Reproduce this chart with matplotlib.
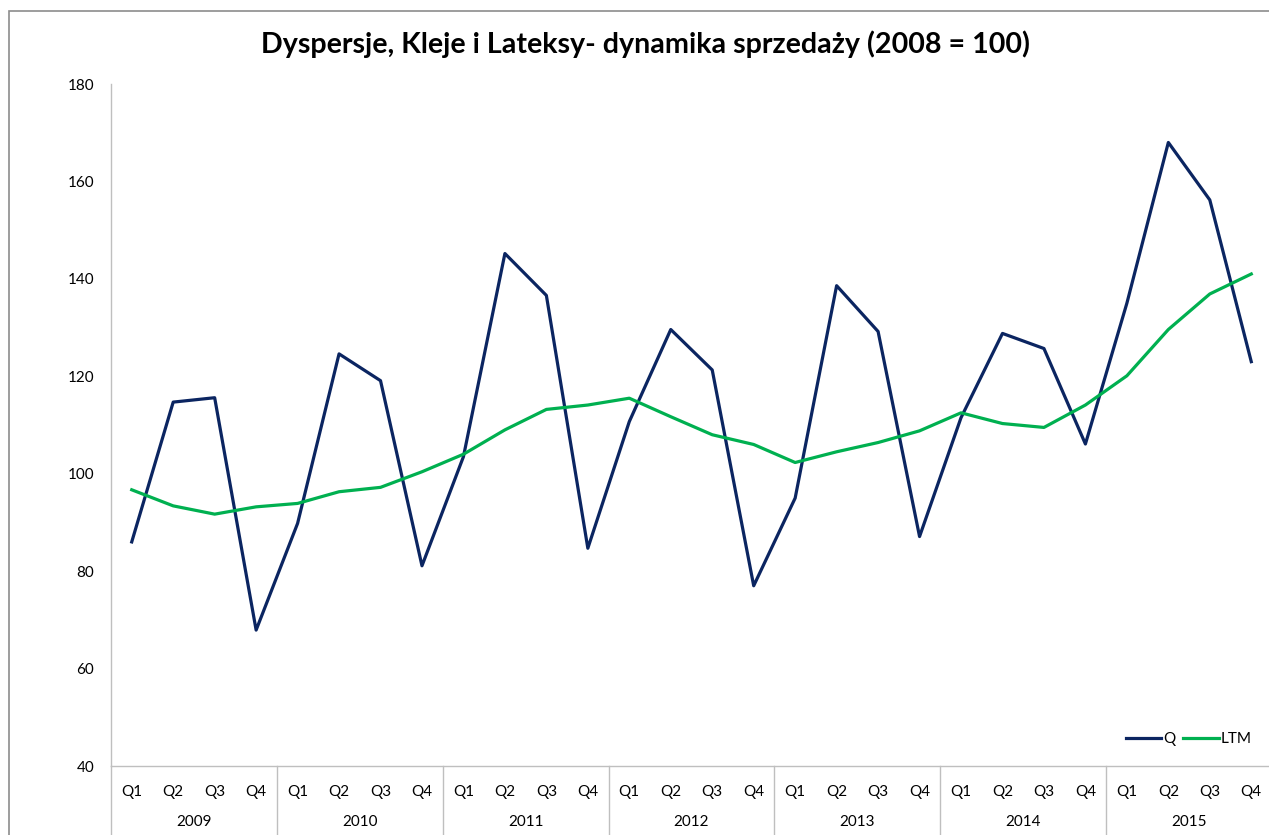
import matplotlib.pyplot as plt
from matplotlib.patches import Rectangle
from matplotlib.transforms import blended_transform_factory
import numpy as np

plt.rcParams["font.family"] = ["Lato", "DejaVu Sans"]

years = ["2009", "2010", "2011", "2012", "2013", "2014", "2015"]
quarters = ["Q1", "Q2", "Q3", "Q4"]

q_vals = [86.0, 114.7, 115.6, 67.9,
          89.8, 124.6, 119.1, 81.1,
          103.5, 145.2, 136.6, 84.7,
          110.7, 129.6, 121.3, 77.0,
          95.0, 138.6, 129.2, 87.1,
          111.5, 128.8, 125.7, 106.1,
          135.0, 168.0, 156.2, 123.0]

ltm_vals = [96.7, 93.4, 91.7, 93.2,
            93.9, 96.3, 97.2, 100.4,
            104.0, 109.0, 113.2, 114.1,
            115.5, 111.7, 108.0, 106.0,
            102.3, 104.5, 106.4, 108.8,
            112.5, 110.3, 109.5, 114.1,
            120.1, 129.6, 136.9, 141.0]

W, H = 1269, 835
fig = plt.figure(figsize=(W / 100, H / 100), dpi=100)

# outer frame of the chart area
fig.patches.append(Rectangle((9 / W, -0.1), 1.2, 1.1 - 11 / H, transform=fig.transFigure,
                             fill=False, edgecolor="#8c8c8c", linewidth=1.2))

ax = fig.add_axes([111 / W, (H - 766) / H, 1161 / W, 682 / H])

x = np.arange(len(q_vals))
ax.plot(x, q_vals, color="#0b2561", linewidth=2.3, label="Q")
ax.plot(x, ltm_vals, color="#00b050", linewidth=2.3, label="LTM")

ax.set_xlim(-0.5, len(q_vals) - 0.5)
ax.set_ylim(40, 180)
ax.set_yticks(np.arange(40, 181, 20))
ax.tick_params(axis="y", length=0, pad=12, labelsize=11)

ax.set_xticks(x)
ax.set_xticklabels(quarters * len(years))
ax.tick_params(axis="x", length=0, pad=14, labelsize=11)

for s in ["top", "right"]:
    ax.spines[s].set_visible(False)
for s in ["left", "bottom"]:
    ax.spines[s].set_color("#bfbfbf")
    ax.spines[s].set_linewidth(1.0)

# year groups under the quarter labels
trans = blended_transform_factory(ax.transData, ax.transAxes)
for i, yr in enumerate(years):
    ax.text(i * 4 + 1.5, -0.082, yr, transform=trans, ha="center", va="center", fontsize=11)
for i in range(len(years) + 1):
    ax.plot([i * 4 - 0.5, i * 4 - 0.5], [0, -0.12], transform=trans, color="#bfbfbf",
            linewidth=1.0, clip_on=False)

fig.text(645 / W, 1 - 44 / H, "Dyspersje, Kleje i Lateksy- dynamika sprzedaży (2008 = 100)",
         ha="center", va="center", fontsize=20.6, fontweight="bold")

ax.legend(loc="center right", bbox_to_anchor=(1258 / W, 1 - 739 / H),
          bbox_transform=fig.transFigure, ncol=2, frameon=False, fontsize=11,
          handlelength=2.3, handletextpad=0.15, columnspacing=0.5, borderaxespad=0)

fig.savefig("out.png", dpi=100)
